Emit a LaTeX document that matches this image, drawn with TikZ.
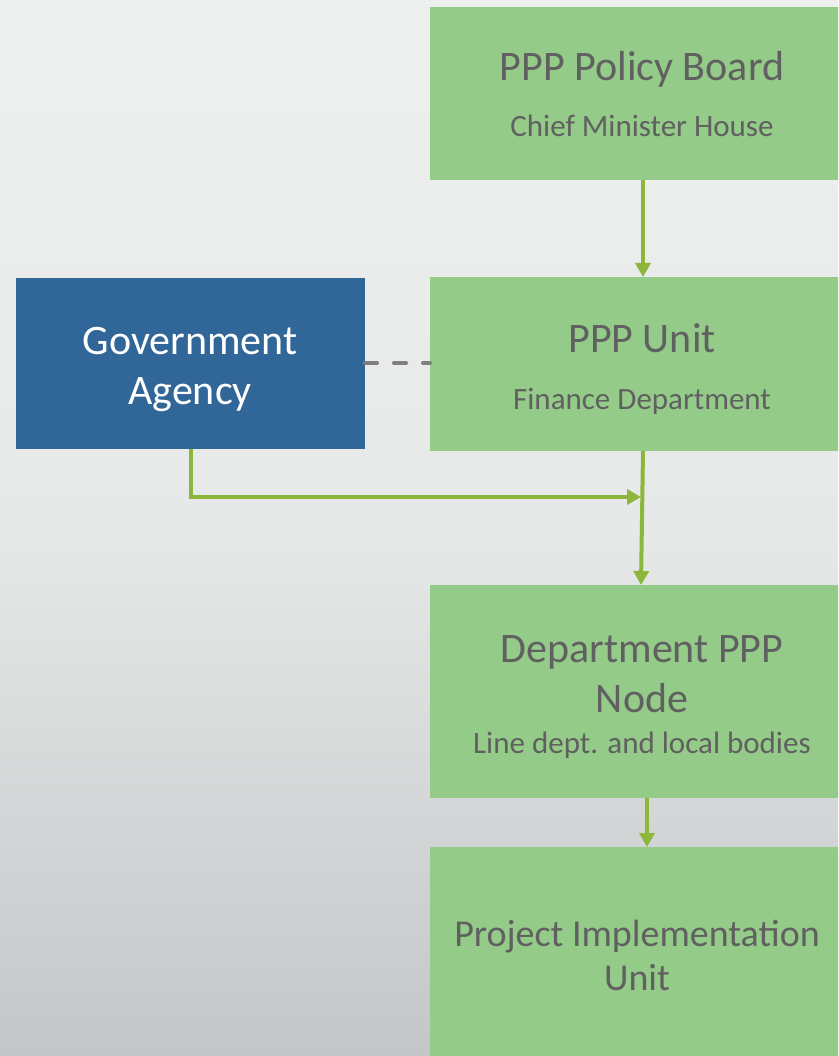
\documentclass[tikz,border=0pt]{standalone}
\usepackage{fontspec}
\setmainfont{Carlito}
\usetikzlibrary{arrows.meta}
\definecolor{boxgreen}{HTML}{94CB88}
\definecolor{boxblue}{HTML}{316699}
\definecolor{arrgreen}{HTML}{8CB73A}
\definecolor{txtgray}{HTML}{606060}
\definecolor{dashgray}{HTML}{7F7F7F}
\definecolor{bgtop}{HTML}{EEEFEF}
\definecolor{bgmid}{HTML}{E7E8E8}
\definecolor{bgbot}{HTML}{C3C7C8}
\tikzset{
  greenbox/.style={rectangle, fill=boxgreen, draw=none, inner sep=0pt, outer sep=0pt, minimum width=424pt},
  bluebox/.style={rectangle, fill=boxblue, draw=none, inner sep=0pt, outer sep=0pt},
  titletext/.style={text=txtgray, font=\fontsize{42}{46}\selectfont, inner sep=0pt, anchor=base},
  piutext/.style={text=txtgray, font=\fontsize{38}{42}\selectfont, inner sep=0pt, anchor=base},
  subtext/.style={text=txtgray, font=\fontsize{31}{34}\selectfont, inner sep=0pt, anchor=base},
  whitetext/.style={text=white, font=\fontsize{42}{46}\selectfont, inner sep=0pt, anchor=base},
  arr/.style={draw=arrgreen, line width=4pt, -{Triangle[width=15pt,length=14pt]}},
  dashline/.style={draw=dashgray, line width=4pt, line cap=round, dash pattern=on 12pt off 17pt}
}
\begin{document}
\begin{tikzpicture}[x=1pt,y=-1pt]
\useasboundingbox (0,0) rectangle (838,1056);
\shade[top color=bgtop, bottom color=bgbot, middle color=bgmid] (0,0) rectangle (838,1056);
\begin{scope}
\clip (0,0) rectangle (838,1056);
% boxes
\node[greenbox, minimum height=173pt] (board) at (642,93.5) {};
\node[greenbox, minimum height=174pt] (unit) at (642,364) {};
\node[greenbox, minimum height=213pt] (dept) at (642,691.5) {};
\node[greenbox, minimum height=212pt] (piu) at (642,953) {};
\node[bluebox, minimum width=349pt, minimum height=171pt] (gov) at (190.5,363.5) {};
% texts
\node[titletext] (t1) at (642,81) {PPP Policy Board};
\node[subtext] (s1) at (642,137) {Chief Minister House};
\node[titletext] (t2) at (642,352) {PPP Unit};
\node[subtext] (s2) at (642,409) {Finance Department};
\node[whitetext] (g1) at (190,354) {Government};
\node[whitetext] (g2) at (190,404) {Agency};
\node[titletext] (t3) at (642,662) {Department PPP};
\node[titletext] (t3b) at (642,712) {Node};
\node[subtext] (s3) at (642,753) {Line dept. and local bodies};
\node[piutext] (t4) at (637,946) {Project Implementation};
\node[piutext] (t4b) at (637,990) {Unit};
\end{scope}
% connectors
\coordinate (j) at (641,497);
\draw[dashline] (gov.east |- 0,363) -- (unit.west |- 0,363);
\draw[arr] ([xshift=1pt]board.south) -- ([xshift=1pt]unit.north);
\draw[arr] ([xshift=1pt]unit.south) -- ([xshift=-1pt]dept.north);
\draw[arr] (gov.south) |- (j);
\draw[arr] ([xshift=5pt]dept.south) -- ([xshift=5pt]piu.north);
\end{tikzpicture}
\end{document}
